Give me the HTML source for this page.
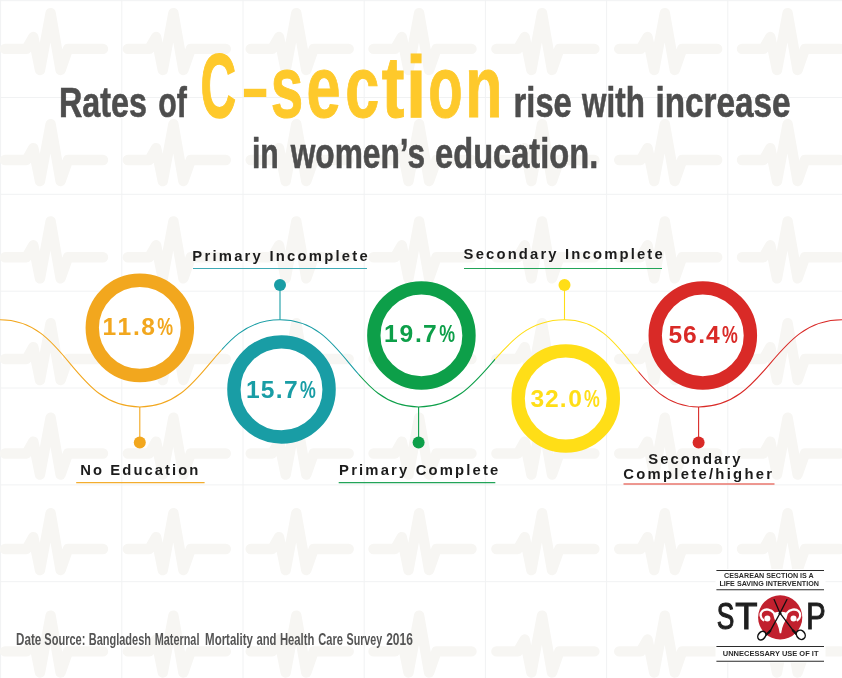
<!DOCTYPE html>
<html><head><meta charset="utf-8"><title>Rates of C-section rise with increase in women's education</title>
<style>
html,body{margin:0;padding:0;background:#fff}
svg{display:block;font-family:"Liberation Sans",sans-serif}
</style></head><body>
<svg width="842" height="678" viewBox="0 0 842 678">
<defs><clipPath id="b0"><rect x="0" y="300" width="221.7" height="130"/></clipPath><clipPath id="b1"><rect x="221.7" y="300" width="137.3" height="130"/></clipPath><clipPath id="b2"><rect x="359" y="300" width="136" height="130"/></clipPath><clipPath id="b3"><rect x="495" y="300" width="143.39999999999998" height="130"/></clipPath><clipPath id="b4"><rect x="638.4" y="300" width="203.60000000000002" height="130"/></clipPath></defs>
<rect width="842" height="678" fill="#fff"/>
<path d="M0.6,0V678M121.8,0V678M243.0,0V678M364.2,0V678M485.4,0V678M606.6,0V678M727.8,0V678M849.0,0V678M0,0.7H842M0,97.5H842M0,194.3H842M0,291.2H842M0,388.0H842M0,484.9H842M0,581.7H842M0,678.6H842" stroke="#f1f2f3" stroke-width="1" fill="none"/>
<path d="M5.0,48.9 L26.5,48.9 L33.3,37.0 L40.0,70.0 L50.6,13.1 L60.6,70.0 L68.0,48.9 L103.0,48.9M127.8,48.9 L149.3,48.9 L156.1,37.0 L162.8,70.0 L173.4,13.1 L183.4,70.0 L190.8,48.9 L225.8,48.9M250.7,48.9 L272.2,48.9 L279.0,37.0 L285.7,70.0 L296.3,13.1 L306.3,70.0 L313.7,48.9 L348.7,48.9M373.5,48.9 L395.0,48.9 L401.8,37.0 L408.5,70.0 L419.1,13.1 L429.1,70.0 L436.5,48.9 L471.5,48.9M496.4,48.9 L517.9,48.9 L524.7,37.0 L531.4,70.0 L542.0,13.1 L552.0,70.0 L559.4,48.9 L594.4,48.9M619.2,48.9 L640.7,48.9 L647.5,37.0 L654.2,70.0 L664.8,13.1 L674.8,70.0 L682.2,48.9 L717.2,48.9M742.0,48.9 L763.5,48.9 L770.3,37.0 L777.0,70.0 L787.6,13.1 L797.6,70.0 L805.0,48.9 L840.0,48.9M5.0,160.0 L26.5,160.0 L33.3,148.1 L40.0,181.1 L50.6,124.2 L60.6,181.1 L68.0,160.0 L103.0,160.0M127.8,160.0 L149.3,160.0 L156.1,148.1 L162.8,181.1 L173.4,124.2 L183.4,181.1 L190.8,160.0 L225.8,160.0M250.7,160.0 L272.2,160.0 L279.0,148.1 L285.7,181.1 L296.3,124.2 L306.3,181.1 L313.7,160.0 L348.7,160.0M373.5,160.0 L395.0,160.0 L401.8,148.1 L408.5,181.1 L419.1,124.2 L429.1,181.1 L436.5,160.0 L471.5,160.0M496.4,160.0 L517.9,160.0 L524.7,148.1 L531.4,181.1 L542.0,124.2 L552.0,181.1 L559.4,160.0 L594.4,160.0M619.2,160.0 L640.7,160.0 L647.5,148.1 L654.2,181.1 L664.8,124.2 L674.8,181.1 L682.2,160.0 L717.2,160.0M742.0,160.0 L763.5,160.0 L770.3,148.1 L777.0,181.1 L787.6,124.2 L797.6,181.1 L805.0,160.0 L840.0,160.0M5.0,257.2 L26.5,257.2 L33.3,245.3 L40.0,278.4 L50.6,221.4 L60.6,278.4 L68.0,257.2 L103.0,257.2M127.8,257.2 L149.3,257.2 L156.1,245.3 L162.8,278.4 L173.4,221.4 L183.4,278.4 L190.8,257.2 L225.8,257.2M250.7,257.2 L272.2,257.2 L279.0,245.3 L285.7,278.4 L296.3,221.4 L306.3,278.4 L313.7,257.2 L348.7,257.2M373.5,257.2 L395.0,257.2 L401.8,245.3 L408.5,278.4 L419.1,221.4 L429.1,278.4 L436.5,257.2 L471.5,257.2M496.4,257.2 L517.9,257.2 L524.7,245.3 L531.4,278.4 L542.0,221.4 L552.0,278.4 L559.4,257.2 L594.4,257.2M619.2,257.2 L640.7,257.2 L647.5,245.3 L654.2,278.4 L664.8,221.4 L674.8,278.4 L682.2,257.2 L717.2,257.2M742.0,257.2 L763.5,257.2 L770.3,245.3 L777.0,278.4 L787.6,221.4 L797.6,278.4 L805.0,257.2 L840.0,257.2M5.0,359.0 L26.5,359.0 L33.3,347.1 L40.0,380.1 L50.6,323.2 L60.6,380.1 L68.0,359.0 L103.0,359.0M127.8,359.0 L149.3,359.0 L156.1,347.1 L162.8,380.1 L173.4,323.2 L183.4,380.1 L190.8,359.0 L225.8,359.0M250.7,359.0 L272.2,359.0 L279.0,347.1 L285.7,380.1 L296.3,323.2 L306.3,380.1 L313.7,359.0 L348.7,359.0M373.5,359.0 L395.0,359.0 L401.8,347.1 L408.5,380.1 L419.1,323.2 L429.1,380.1 L436.5,359.0 L471.5,359.0M496.4,359.0 L517.9,359.0 L524.7,347.1 L531.4,380.1 L542.0,323.2 L552.0,380.1 L559.4,359.0 L594.4,359.0M619.2,359.0 L640.7,359.0 L647.5,347.1 L654.2,380.1 L664.8,323.2 L674.8,380.1 L682.2,359.0 L717.2,359.0M742.0,359.0 L763.5,359.0 L770.3,347.1 L777.0,380.1 L787.6,323.2 L797.6,380.1 L805.0,359.0 L840.0,359.0M5.0,453.5 L26.5,453.5 L33.3,441.6 L40.0,474.6 L50.6,417.7 L60.6,474.6 L68.0,453.5 L103.0,453.5M127.8,453.5 L149.3,453.5 L156.1,441.6 L162.8,474.6 L173.4,417.7 L183.4,474.6 L190.8,453.5 L225.8,453.5M250.7,453.5 L272.2,453.5 L279.0,441.6 L285.7,474.6 L296.3,417.7 L306.3,474.6 L313.7,453.5 L348.7,453.5M373.5,453.5 L395.0,453.5 L401.8,441.6 L408.5,474.6 L419.1,417.7 L429.1,474.6 L436.5,453.5 L471.5,453.5M496.4,453.5 L517.9,453.5 L524.7,441.6 L531.4,474.6 L542.0,417.7 L552.0,474.6 L559.4,453.5 L594.4,453.5M619.2,453.5 L640.7,453.5 L647.5,441.6 L654.2,474.6 L664.8,417.7 L674.8,474.6 L682.2,453.5 L717.2,453.5M742.0,453.5 L763.5,453.5 L770.3,441.6 L777.0,474.6 L787.6,417.7 L797.6,474.6 L805.0,453.5 L840.0,453.5M5.0,549.0 L26.5,549.0 L33.3,537.1 L40.0,570.1 L50.6,513.2 L60.6,570.1 L68.0,549.0 L103.0,549.0M127.8,549.0 L149.3,549.0 L156.1,537.1 L162.8,570.1 L173.4,513.2 L183.4,570.1 L190.8,549.0 L225.8,549.0M250.7,549.0 L272.2,549.0 L279.0,537.1 L285.7,570.1 L296.3,513.2 L306.3,570.1 L313.7,549.0 L348.7,549.0M373.5,549.0 L395.0,549.0 L401.8,537.1 L408.5,570.1 L419.1,513.2 L429.1,570.1 L436.5,549.0 L471.5,549.0M496.4,549.0 L517.9,549.0 L524.7,537.1 L531.4,570.1 L542.0,513.2 L552.0,570.1 L559.4,549.0 L594.4,549.0M619.2,549.0 L640.7,549.0 L647.5,537.1 L654.2,570.1 L664.8,513.2 L674.8,570.1 L682.2,549.0 L717.2,549.0M742.0,549.0 L763.5,549.0 L770.3,537.1 L777.0,570.1 L787.6,513.2 L797.6,570.1 L805.0,549.0 L840.0,549.0M5.0,651.4 L26.5,651.4 L33.3,639.5 L40.0,672.5 L50.6,615.6 L60.6,672.5 L68.0,651.4 L103.0,651.4M127.8,651.4 L149.3,651.4 L156.1,639.5 L162.8,672.5 L173.4,615.6 L183.4,672.5 L190.8,651.4 L225.8,651.4M250.7,651.4 L272.2,651.4 L279.0,639.5 L285.7,672.5 L296.3,615.6 L306.3,672.5 L313.7,651.4 L348.7,651.4M373.5,651.4 L395.0,651.4 L401.8,639.5 L408.5,672.5 L419.1,615.6 L429.1,672.5 L436.5,651.4 L471.5,651.4M496.4,651.4 L517.9,651.4 L524.7,639.5 L531.4,672.5 L542.0,615.6 L552.0,672.5 L559.4,651.4 L594.4,651.4M619.2,651.4 L640.7,651.4 L647.5,639.5 L654.2,672.5 L664.8,615.6 L674.8,672.5 L682.2,651.4 L717.2,651.4M742.0,651.4 L763.5,651.4 L770.3,639.5 L777.0,672.5 L787.6,615.6 L797.6,672.5 L805.0,651.4 L840.0,651.4" stroke="#f7f6f3" stroke-width="10.4" stroke-linecap="round" stroke-linejoin="round" fill="none"/>
<text y="116.9" font-size="42.5" font-weight="bold" fill="#4d4d4d" stroke="#4d4d4d" stroke-width="0.6"><tspan x="59.0" textLength="88.0" lengthAdjust="spacingAndGlyphs">Rates</tspan> <tspan x="158.2" textLength="28.6" lengthAdjust="spacingAndGlyphs">of</tspan></text><text y="116.9" font-size="42.5" font-weight="bold" fill="#4d4d4d" stroke="#4d4d4d" stroke-width="0.6"><tspan x="513.5999999999999" textLength="58.2" lengthAdjust="spacingAndGlyphs">rise</tspan> <tspan x="582.1" textLength="62.7" lengthAdjust="spacingAndGlyphs">with</tspan> <tspan x="655.4" textLength="135.1" lengthAdjust="spacingAndGlyphs">increase</tspan></text><text y="168.1" font-size="42.5" font-weight="bold" fill="#4d4d4d" stroke="#4d4d4d" stroke-width="0.6"><tspan x="251.9" textLength="26.8" lengthAdjust="spacingAndGlyphs">in</tspan> <tspan x="290.7" textLength="134.3" lengthAdjust="spacingAndGlyphs">women’s</tspan> <tspan x="435.1" textLength="163.1" lengthAdjust="spacingAndGlyphs">education.</tspan></text><text y="116.7" font-size="88" font-weight="bold" fill="#fec92b" stroke="#fec92b" stroke-width="1"><tspan x="200.4" font-size="91" stroke="#fec92b" stroke-width="1.4" textLength="35.6" lengthAdjust="spacingAndGlyphs">C</tspan><tspan x="240.6" dy="-5.9" font-size="68.5" stroke-width="0" textLength="29.3" lengthAdjust="spacingAndGlyphs">-</tspan><tspan x="270.75" textLength="32.44" lengthAdjust="spacingAndGlyphs" dy="5.9">s</tspan><tspan x="306.61" textLength="34.09" lengthAdjust="spacingAndGlyphs">e</tspan><tspan x="345.31" textLength="33.98" lengthAdjust="spacingAndGlyphs">c</tspan><tspan x="381.87" textLength="22.66" lengthAdjust="spacingAndGlyphs">t</tspan><tspan x="406.11" textLength="20.25" lengthAdjust="spacingAndGlyphs">i</tspan><tspan x="428.30" textLength="34.40" lengthAdjust="spacingAndGlyphs">o</tspan><tspan x="465.19" textLength="37.19" lengthAdjust="spacingAndGlyphs">n</tspan></text>
<path d="M0,319.8C67.8,319.8 72.0,406.9 139.8,406.9C207.8,406.9 212.0,319.8 280.0,319.8C347.2,319.8 351.4,406.9 418.6,406.9C489.4,406.9 493.7,319.8 564.5,319.8C629.5,319.8 633.6,406.9 698.6,406.9C768.1,406.9 772.5,319.8 842.0,319.8" fill="none" stroke="#f2a71e" stroke-width="1.05" clip-path="url(#b0)"/><path d="M0,319.8C67.8,319.8 72.0,406.9 139.8,406.9C207.8,406.9 212.0,319.8 280.0,319.8C347.2,319.8 351.4,406.9 418.6,406.9C489.4,406.9 493.7,319.8 564.5,319.8C629.5,319.8 633.6,406.9 698.6,406.9C768.1,406.9 772.5,319.8 842.0,319.8" fill="none" stroke="#199da5" stroke-width="1.05" clip-path="url(#b1)"/><path d="M0,319.8C67.8,319.8 72.0,406.9 139.8,406.9C207.8,406.9 212.0,319.8 280.0,319.8C347.2,319.8 351.4,406.9 418.6,406.9C489.4,406.9 493.7,319.8 564.5,319.8C629.5,319.8 633.6,406.9 698.6,406.9C768.1,406.9 772.5,319.8 842.0,319.8" fill="none" stroke="#0d9f49" stroke-width="1.05" clip-path="url(#b2)"/><path d="M0,319.8C67.8,319.8 72.0,406.9 139.8,406.9C207.8,406.9 212.0,319.8 280.0,319.8C347.2,319.8 351.4,406.9 418.6,406.9C489.4,406.9 493.7,319.8 564.5,319.8C629.5,319.8 633.6,406.9 698.6,406.9C768.1,406.9 772.5,319.8 842.0,319.8" fill="none" stroke="#ffde17" stroke-width="1.05" clip-path="url(#b3)"/><path d="M0,319.8C67.8,319.8 72.0,406.9 139.8,406.9C207.8,406.9 212.0,319.8 280.0,319.8C347.2,319.8 351.4,406.9 418.6,406.9C489.4,406.9 493.7,319.8 564.5,319.8C629.5,319.8 633.6,406.9 698.6,406.9C768.1,406.9 772.5,319.8 842.0,319.8" fill="none" stroke="#d92a27" stroke-width="1.05" clip-path="url(#b4)"/>
<path d="M139.8,406.9V442.4" stroke="#f2a71e" stroke-width="1.1"/><circle cx="139.8" cy="442.4" r="6" fill="#f2a71e"/><path d="M280,319.8V284.9" stroke="#199da5" stroke-width="1.1"/><circle cx="280" cy="284.9" r="6" fill="#199da5"/><path d="M418.6,406.9V442.4" stroke="#0d9f49" stroke-width="1.1"/><circle cx="418.6" cy="442.4" r="6" fill="#0d9f49"/><path d="M564.5,319.8V284.9" stroke="#ffde17" stroke-width="1.1"/><circle cx="564.5" cy="284.9" r="6" fill="#ffde17"/><path d="M698.6,406.9V442.4" stroke="#d92a27" stroke-width="1.1"/><circle cx="698.6" cy="442.4" r="6" fill="#d92a27"/>
<circle cx="139.85" cy="327.85" r="47.6" fill="#fff" stroke="#f2a71e" stroke-width="13.35"/><text y="335.05" font-size="24.6" font-weight="bold" fill="#f2a71e"><tspan x="102.6 117.6 133.0 141.3">11.8</tspan><tspan x="157.2" textLength="15.8" lengthAdjust="spacingAndGlyphs">%</tspan></text><circle cx="281.5" cy="389.4" r="47.6" fill="#fff" stroke="#199da5" stroke-width="13.35"/><text y="397.5" font-size="24.6" font-weight="bold" fill="#199da5"><tspan x="245.9 260.8 275.8 284.0">15.7</tspan><tspan x="299.9" textLength="15.8" lengthAdjust="spacingAndGlyphs">%</tspan></text><circle cx="421.4" cy="335.4" r="47.6" fill="#fff" stroke="#0d9f49" stroke-width="13.35"/><text y="342.05" font-size="24.6" font-weight="bold" fill="#0d9f49"><tspan x="384.1 399.4 414.9 423.1">19.7</tspan><tspan x="439.2" textLength="15.8" lengthAdjust="spacingAndGlyphs">%</tspan></text><circle cx="565.75" cy="398.45" r="47.6" fill="#fff" stroke="#ffde17" stroke-width="13.35"/><text y="406.6" font-size="24.6" font-weight="bold" fill="#ffde17"><tspan x="530.4 544.9 559.8 568.2">32.0</tspan><tspan x="583.9" textLength="15.8" lengthAdjust="spacingAndGlyphs">%</tspan></text><circle cx="702.8" cy="335.4" r="47.6" fill="#fff" stroke="#d92a27" stroke-width="13.35"/><text y="343" font-size="24.6" font-weight="bold" fill="#d92a27"><tspan x="668.5 683.0 698.2 705.9">56.4</tspan><tspan x="721.9" textLength="15.8" lengthAdjust="spacingAndGlyphs">%</tspan></text>
<text x="192.3" y="260.9" font-size="14.8" font-weight="bold" fill="#1c1c1c" textLength="175.4" lengthAdjust="spacing">Primary Incomplete</text><path d="M193,268.5H367" stroke="#3faab6" stroke-width="1.2"/><text x="463.6" y="259.4" font-size="14.8" font-weight="bold" fill="#1c1c1c" textLength="199.1" lengthAdjust="spacing">Secondary Incomplete</text><path d="M464,268.5H662" stroke="#22a458" stroke-width="1.2"/><text x="80.3" y="474.8" font-size="14.8" font-weight="bold" fill="#1c1c1c" textLength="118.1" lengthAdjust="spacing">No Education</text><path d="M76.2,482.6H204.6" stroke="#f3ad2e" stroke-width="1.2"/><text x="339.1" y="474.8" font-size="14.8" font-weight="bold" fill="#1c1c1c" textLength="159.2" lengthAdjust="spacing">Primary Complete</text><path d="M338.7,482.6H495.3" stroke="#22a458" stroke-width="1.2"/><text x="648.2" y="464.3" font-size="14.8" font-weight="bold" fill="#1c1c1c" textLength="92.2" lengthAdjust="spacing">Secondary</text><text x="623.3" y="479.4" font-size="14.8" font-weight="bold" fill="#1c1c1c" textLength="148.7" lengthAdjust="spacing">Complete/higher</text><path d="M623.5,484.1H774.5" stroke="#e8766d" stroke-width="1.5"/>
<text y="645" font-size="16" font-weight="bold" fill="#555"><tspan x="16.099999999999998" textLength="25.2" lengthAdjust="spacingAndGlyphs">Date</tspan> <tspan x="44.3" textLength="41.1" lengthAdjust="spacingAndGlyphs">Source:</tspan> <tspan x="88.7" textLength="62.3" lengthAdjust="spacingAndGlyphs">Bangladesh</tspan> <tspan x="154.8" textLength="44.6" lengthAdjust="spacingAndGlyphs">Maternal</tspan> <tspan x="205.1" textLength="47.8" lengthAdjust="spacingAndGlyphs">Mortality</tspan> <tspan x="256.4" textLength="20.0" lengthAdjust="spacingAndGlyphs">and</tspan> <tspan x="279.9" textLength="34.4" lengthAdjust="spacingAndGlyphs">Health</tspan> <tspan x="318.29999999999995" textLength="24.7" lengthAdjust="spacingAndGlyphs">Care</tspan> <tspan x="346.5" textLength="35.7" lengthAdjust="spacingAndGlyphs">Survey</tspan> <tspan x="386.2" textLength="26.6" lengthAdjust="spacingAndGlyphs">2016</tspan></text>
<rect x="715.5" y="569" width="110" height="93.5" fill="#fff"/>
<path d="M716.4,570.5H824M716.4,589.8H824M716.4,646.5H824M716.4,661.3H824" stroke="#2b2b2b" stroke-width="1.05"/>
<text x="724.1" y="578.2" font-size="6.9" font-weight="bold" fill="#2b2b2b" textLength="89.7" lengthAdjust="spacingAndGlyphs">CESAREAN SECTION IS A</text>
<text x="719.4" y="585.6" font-size="6.9" font-weight="bold" fill="#2b2b2b" textLength="99.5" lengthAdjust="spacingAndGlyphs">LIFE SAVING INTERVENTION</text>
<text x="722.8" y="656.2" font-size="6.9" font-weight="bold" fill="#2b2b2b" textLength="95.7" lengthAdjust="spacingAndGlyphs">UNNECESSARY USE OF IT</text>
<text y="628.8" font-size="37.2" fill="#1f1f1f" stroke="#1f1f1f" stroke-width="1.1"><tspan x="716.8" textLength="17.6" lengthAdjust="spacingAndGlyphs">S</tspan><tspan x="735.2" textLength="22.2" lengthAdjust="spacingAndGlyphs">T</tspan></text>
<text x="806.3" y="628.8" font-size="37.2" fill="#1f1f1f" stroke="#1f1f1f" stroke-width="1.1" textLength="19.4" lengthAdjust="spacingAndGlyphs">P</text>
<circle cx="780.2" cy="617.4" r="22.1" fill="#c1202e"/>
<path d="M772.97,613.38Q776.79,611.27 780.44,611.92Q784.09,611.27 787.91,613.38Q786.93,619.22 783.69,624.09Q781.82,628.15 781.17,633.18L779.71,633.18Q779.06,628.15 777.19,624.09Q773.94,619.22 772.97,613.38Z" fill="#fff"/>
<g fill="none" stroke="#fff" stroke-width="2.3" stroke-linecap="round"><path d="M773.70,612.89C771.27,609.32 765.42,608.26 762.18,611.27C759.58,613.94 760.39,618.00 763.39,620.19"/><path d="M787.18,612.89C789.61,609.32 795.45,608.26 798.70,611.27C801.30,613.94 800.49,618.00 797.48,620.19"/></g>
<circle cx="767.37" cy="618.57" r="3" fill="#fff"/><circle cx="793.51" cy="618.57" r="3" fill="#fff"/>
<g fill="none" stroke="#111" stroke-width="1.25" stroke-linecap="round"><path d="M774.11,599.58L780.03,613.13L795.86,634.24"/><path d="M786.93,599.58L780.03,613.13L769.16,632.86"/></g>
<g fill="none" stroke="#111" stroke-width="2.2" stroke-linecap="round"><path d="M792.86,630.42L797.08,634.32"/><path d="M770.29,630.83L766.23,634.81"/></g>
<circle cx="780.03" cy="613.13" r="1.4" fill="#111"/>
<ellipse cx="800.81" cy="634.81" rx="4.1" ry="4.9" transform="rotate(-38 800.81 634.81)" fill="#fff" stroke="#111" stroke-width="1.5"/>
<ellipse cx="761.77" cy="635.62" rx="3.5" ry="4.7" transform="rotate(38 761.77 635.62)" fill="#fff" stroke="#111" stroke-width="1.5"/>

</svg>
</body></html>
